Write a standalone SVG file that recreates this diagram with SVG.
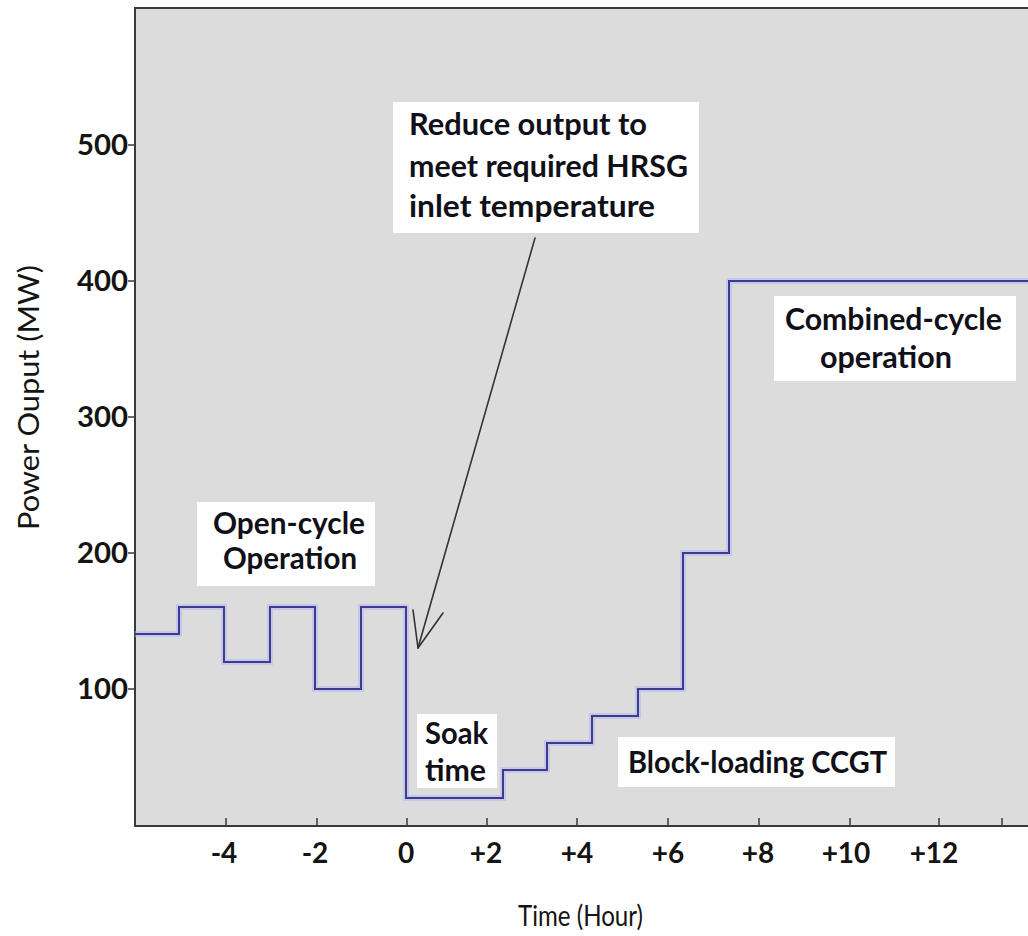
<svg xmlns="http://www.w3.org/2000/svg" width="1028" height="936" viewBox="0 0 1028 936">
  <style>
    .axis { stroke: #3a3a3a; stroke-width: 2; fill: none; }
    .tick { stroke: #3a3a3a; stroke-width: 1.5; fill: none; }
    .num { font-family: Lato, "Liberation Sans", sans-serif; font-weight: bold; font-size: 28px; fill: #141414; }
    .title { font-family: Lato, "Liberation Sans", sans-serif; font-size: 28px; fill: #141414; }
    .lbl { font-family: Lato, "Liberation Sans", sans-serif; font-weight: bold; font-size: 31px; fill: #101018; }
    .box { fill: #ffffff; }
    .halo { stroke: #b4b4ee; stroke-width: 6; stroke-opacity: 0.55; fill: none; stroke-linejoin: miter; }
    .trace { stroke: #3b3b92; stroke-width: 2; fill: none; stroke-linejoin: miter; }
    .pointer { stroke: #333333; stroke-width: 1.6; fill: none; stroke-linecap: round; stroke-linejoin: round; }
  </style>

  <rect x="0" y="0" width="1028" height="936" fill="#ffffff"/>

  <!-- plot area -->
  <g id="plot-area">
    <rect x="135" y="7" width="893" height="819" fill="#dcdcdc"/>
    <line class="axis" x1="134" y1="8" x2="1028" y2="8"/>
    <line class="axis" x1="135" y1="7" x2="135" y2="827"/>
    <line class="axis" x1="134" y1="826" x2="1028" y2="826"/>
  </g>

  <!-- y axis ticks and values -->
  <g id="y-axis">
    <path class="tick" d="M128 145H135M128 281H135M128 417H135M128 553H135M128 689H135"/>
    <text class="num" x="128" y="155" text-anchor="end" textLength="51" lengthAdjust="spacingAndGlyphs">500</text>
    <text class="num" x="128" y="291" text-anchor="end" textLength="51" lengthAdjust="spacingAndGlyphs">400</text>
    <text class="num" x="128" y="427" text-anchor="end" textLength="51" lengthAdjust="spacingAndGlyphs">300</text>
    <text class="num" x="128" y="563" text-anchor="end" textLength="51" lengthAdjust="spacingAndGlyphs">200</text>
    <text class="num" x="128" y="699" text-anchor="end" textLength="51" lengthAdjust="spacingAndGlyphs">100</text>
    <text class="title" transform="translate(39 530) rotate(-90)" textLength="265" lengthAdjust="spacingAndGlyphs">Power Ouput (MW)</text>
  </g>

  <!-- x axis ticks and values -->
  <g id="x-axis">
    <path class="tick" d="M226 818V826M317 818V826M407 818V826M487 818V826M577 818V826M668 818V826M759 818V826M850 818V826M939 818V826M1002 818V826"/>
    <text class="num" x="224" y="863" text-anchor="middle">-4</text>
    <text class="num" x="315" y="863" text-anchor="middle">-2</text>
    <text class="num" x="406" y="863" text-anchor="middle">0</text>
    <text class="num" x="486" y="863" text-anchor="middle">+2</text>
    <text class="num" x="577" y="863" text-anchor="middle">+4</text>
    <text class="num" x="668" y="863" text-anchor="middle">+6</text>
    <text class="num" x="758" y="863" text-anchor="middle">+8</text>
    <text class="num" x="846" y="863" text-anchor="middle">+10</text>
    <text class="num" x="934" y="863" text-anchor="middle">+12</text>
    <text class="title" x="518" y="926" textLength="125" lengthAdjust="spacingAndGlyphs">Time (Hour)</text>
  </g>

  <!-- power output step trace -->
  <g id="series">
    <path class="halo" d="M135 634H179V607H224V662H270V607H315V689H361V607H406V798H503V770H547V743H592V716H638V689H683V553H729V281H1028"/>
    <path class="trace" d="M135 634H179V607H224V662H270V607H315V689H361V607H406V798H503V770H547V743H592V716H638V689H683V553H729V281H1028"/>
  </g>

  <!-- annotation boxes -->
  <g id="label-reduce">
    <rect class="box" x="393" y="102" width="306" height="131"/>
    <text class="lbl" x="409" y="135" textLength="238" lengthAdjust="spacingAndGlyphs">Reduce output to</text>
    <text class="lbl" x="409" y="177" textLength="279" lengthAdjust="spacingAndGlyphs">meet required HRSG</text>
    <text class="lbl" x="409" y="217" textLength="246" lengthAdjust="spacingAndGlyphs">inlet temperature</text>
  </g>

  <g id="label-open-cycle">
    <rect class="box" x="197" y="502" width="178" height="84"/>
    <text class="lbl" x="213" y="534" textLength="152" lengthAdjust="spacingAndGlyphs">Open-cycle</text>
    <text class="lbl" x="223" y="569" textLength="134" lengthAdjust="spacingAndGlyphs">Operation</text>
  </g>

  <g id="label-soak">
    <rect class="box" x="417" y="714" width="80" height="74"/>
    <text class="lbl" x="425" y="744" textLength="63" lengthAdjust="spacingAndGlyphs">Soak</text>
    <text class="lbl" x="425" y="781" textLength="61" lengthAdjust="spacingAndGlyphs">time</text>
  </g>

  <g id="label-block-loading">
    <rect class="box" x="618" y="737" width="277" height="50"/>
    <text class="lbl" x="628" y="773" textLength="259" lengthAdjust="spacingAndGlyphs">Block-loading CCGT</text>
  </g>

  <g id="label-combined-cycle">
    <rect class="box" x="774" y="296" width="242" height="85"/>
    <text class="lbl" x="785" y="330" textLength="217" lengthAdjust="spacingAndGlyphs">Combined-cycle</text>
    <text class="lbl" x="820" y="368" textLength="132" lengthAdjust="spacingAndGlyphs">operation</text>
  </g>

  <!-- pointer from the HRSG note down to the output drop -->
  <g id="connectors">
    <path class="pointer" d="M535 238L418 648"/>
    <path class="pointer" d="M413 610L418 648L443 613"/>
  </g>
</svg>
